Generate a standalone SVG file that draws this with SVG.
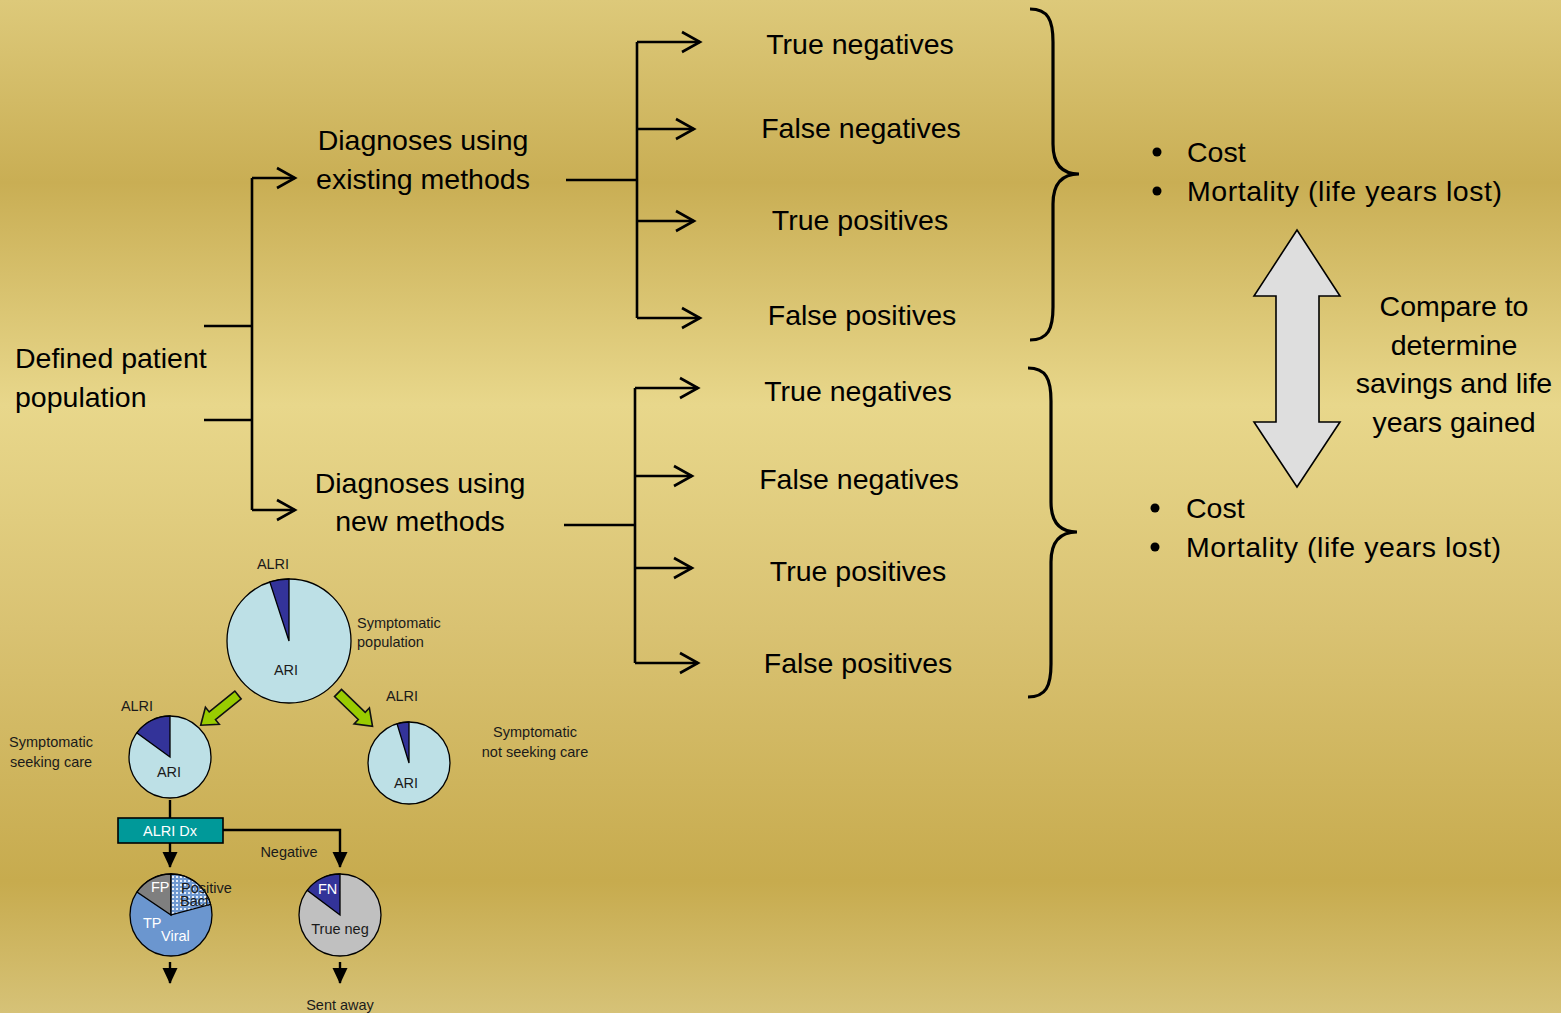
<svg xmlns="http://www.w3.org/2000/svg" width="1561" height="1013" viewBox="0 0 1561 1013">
<defs>
<linearGradient id="bg" x1="0" y1="0" x2="0" y2="1">
<stop offset="0" stop-color="#ddc97a"/>
<stop offset="0.18" stop-color="#c9ae54"/>
<stop offset="0.40" stop-color="#e8d78b"/>
<stop offset="0.62" stop-color="#d9c272"/>
<stop offset="0.87" stop-color="#c7ab4e"/>
<stop offset="1" stop-color="#d6c277"/>
</linearGradient>
<marker id="open" markerWidth="26" markerHeight="26" refX="21" refY="13" orient="auto" markerUnits="userSpaceOnUse">
<path d="M3,3 L21,13 L3,23" fill="none" stroke="#000" stroke-width="2.6"/>
</marker>
<marker id="tri" markerWidth="18" markerHeight="18" refX="15" refY="9" orient="auto" markerUnits="userSpaceOnUse">
<path d="M0,1.5 L16,9 L0,16.5 Z" fill="#000"/>
</marker>
<pattern id="dots" width="4" height="4" patternUnits="userSpaceOnUse">
<rect width="4" height="4" fill="#6f98d0"/>
<rect x="0" y="0" width="2" height="2" fill="#e6eef9"/>
</pattern>
<style>
.big{font-family:"Liberation Sans",Arial,sans-serif;font-size:28.5px;fill:#000}
.sm{font-family:"Liberation Sans",Arial,sans-serif;font-size:14.5px;fill:#1a1a1a}
.mid{text-anchor:middle}
.ln{fill:none;stroke:#000;stroke-width:2.6}
.arr{fill:none;stroke:#000;stroke-width:2.6;marker-end:url(#open)}
.brace{fill:none;stroke:#000;stroke-width:3.2}
.pie{stroke:#000;stroke-width:1.3}
.green{fill:#99cc00;stroke:#111;stroke-width:1.6}
.thin{fill:none;stroke:#000;stroke-width:2.4}
</style>
</defs>
<rect width="1561" height="1013" fill="url(#bg)"/>

<g id="connectors">
<path class="ln" d="M204,326 H252 M204,420 H252 M252,178 V510"/>
<path class="arr" d="M252,178 H295"/>
<path class="arr" d="M252,510 H295"/>
<path class="ln" d="M566,180 H637 M637,42 V318"/>
<path class="arr" d="M637,42 H700"/>
<path class="arr" d="M637,129 H694"/>
<path class="arr" d="M637,221 H694"/>
<path class="arr" d="M637,318 H700"/>
<path class="ln" d="M564,525 H635 M635,388 V663"/>
<path class="arr" d="M635,388 H698"/>
<path class="arr" d="M635,476 H692"/>
<path class="arr" d="M635,568 H692"/>
<path class="arr" d="M635,663 H698"/>
<path class="brace" d="M1030,9 C1048,9 1053,20 1053,42 L1053,144 C1053,164 1062,174 1079,174 C1062,174 1053,184 1053,204 L1053,307 C1053,329 1048,340 1030,340"/>
<path class="brace" d="M1028,368 C1046,368 1051,379 1051,401 L1051,502 C1051,522 1060,532 1077,532 C1060,532 1051,542 1051,562 L1051,664 C1051,686 1046,697 1028,697"/>
<path class="thin" d="M170,800 V818"/>
<path class="thin" d="M170,843 V867" marker-end="url(#tri)"/>
<path class="thin" d="M223,830 H340 V867" marker-end="url(#tri)"/>
<path class="thin" d="M170,962 V983" marker-end="url(#tri)"/>
<path class="thin" d="M340,962 V983" marker-end="url(#tri)"/>
<path class="green" d="M0,-5 L33,-5 L33,-11 L48,0 L33,11 L33,5 L0,5 Z" transform="translate(238,695) rotate(141)"/>
<path class="green" d="M0,-5 L33,-5 L33,-11 L48,0 L33,11 L33,5 L0,5 Z" transform="translate(338,693) rotate(44)"/>
</g>

<g id="population">
<text class="big" x="15" y="368">Defined patient</text>
<text class="big" x="15" y="407">population</text>
</g>
<g id="existing">
<text class="big mid" x="423" y="150">Diagnoses using</text>
<text class="big mid" x="423" y="189">existing methods</text>
</g>
<g id="new">
<text class="big mid" x="420" y="493">Diagnoses using</text>
<text class="big mid" x="420" y="531">new methods</text>
</g>
<g id="ex-outcomes">
<text class="big mid" x="860" y="54">True negatives</text>
<text class="big mid" x="861" y="138">False negatives</text>
<text class="big mid" x="860" y="230">True positives</text>
<text class="big mid" x="862" y="325">False positives</text>
</g>
<g id="new-outcomes">
<text class="big mid" x="858" y="401">True negatives</text>
<text class="big mid" x="859" y="489">False negatives</text>
<text class="big mid" x="858" y="581">True positives</text>
<text class="big mid" x="858" y="673">False positives</text>
</g>
<g id="ex-results">
<circle cx="1157" cy="152" r="4.5" fill="#000"/>
<circle cx="1157" cy="191" r="4.5" fill="#000"/>
<text class="big" x="1187" y="162">Cost</text>
<text class="big" x="1187" y="201" textLength="315">Mortality (life years lost)</text>
</g>
<g id="new-results">
<circle cx="1155" cy="508" r="4.5" fill="#000"/>
<circle cx="1155" cy="547" r="4.5" fill="#000"/>
<text class="big" x="1186" y="518">Cost</text>
<text class="big" x="1186" y="557" textLength="315">Mortality (life years lost)</text>
</g>
<g id="compare">
<path d="M1297,230 L1340,296 L1319,296 L1319,422 L1340,422 L1297,487 L1254,422 L1276,422 L1276,296 L1254,296 Z" fill="#dedede" stroke="#000" stroke-width="1.6"/>
<text class="big mid" x="1454" y="316">Compare to</text>
<text class="big mid" x="1454" y="355">determine</text>
<text class="big mid" x="1454" y="393">savings and life</text>
<text class="big mid" x="1454" y="432">years gained</text>
</g>

<g id="pie-population">
<circle class="pie" cx="289" cy="641" r="62" fill="#bde0e6"/>
<path class="pie" d="M289,641 L289,579 A62,62 0 0 0 269.8,582 Z" fill="#333399"/>
<text class="sm mid" x="273" y="569">ALRI</text>
<text class="sm mid" x="286" y="675">ARI</text>
<text class="sm" x="357" y="628">Symptomatic</text>
<text class="sm" x="357" y="647">population</text>
</g>
<g id="pie-seeking">
<circle class="pie" cx="170" cy="757" r="41" fill="#bde0e6"/>
<path class="pie" d="M170,757 L170,716 A41,41 0 0 0 136.8,732.9 Z" fill="#333399"/>
<text class="sm mid" x="137" y="711">ALRI</text>
<text class="sm mid" x="169" y="777">ARI</text>
<text class="sm mid" x="51" y="747">Symptomatic</text>
<text class="sm mid" x="51" y="767">seeking care</text>
</g>
<g id="pie-notseeking">
<circle class="pie" cx="409" cy="763" r="41" fill="#bde0e6"/>
<path class="pie" d="M409,763 L409,722 A41,41 0 0 0 397,723.8 Z" fill="#333399"/>
<text class="sm mid" x="402" y="701">ALRI</text>
<text class="sm mid" x="406" y="788">ARI</text>
<text class="sm mid" x="535" y="737">Symptomatic</text>
<text class="sm mid" x="535" y="757">not seeking care</text>
</g>
<g id="dx-box">
<rect x="118" y="818" width="105" height="25" fill="#009999" stroke="#000" stroke-width="1.6"/>
<text class="sm mid" x="170" y="836" style="fill:#fff">ALRI Dx</text>
<text class="sm mid" x="289" y="857">Negative</text>
</g>
<g id="pie-positive">
<circle class="pie" cx="171" cy="915" r="41" fill="#6b96cf"/>
<path class="pie" d="M171,915 L171,874 A41,41 0 0 0 137,892.1 Z" fill="#7f7f7f"/>
<path class="pie" d="M171,915 L171,874 A41,41 0 0 1 210.6,904.4 Z" fill="url(#dots)"/>
<text class="sm" x="151" y="892" style="fill:#fff">FP</text>
<text class="sm" x="181" y="893">Positive</text>
<text class="sm" x="180" y="906">Bact</text>
<text class="sm" x="143" y="928" style="fill:#fff">TP</text>
<text class="sm" x="161" y="941" style="fill:#fff">Viral</text>
</g>
<g id="pie-negative">
<circle class="pie" cx="340" cy="915" r="41" fill="#c0c0c0"/>
<path class="pie" d="M340,915 L340,874 A41,41 0 0 0 307.2,890.3 Z" fill="#333399"/>
<text class="sm" x="318" y="894" style="fill:#fff">FN</text>
<text class="sm mid" x="340" y="934">True neg</text>
<text class="sm mid" x="340" y="1010">Sent away</text>
</g>
</svg>
